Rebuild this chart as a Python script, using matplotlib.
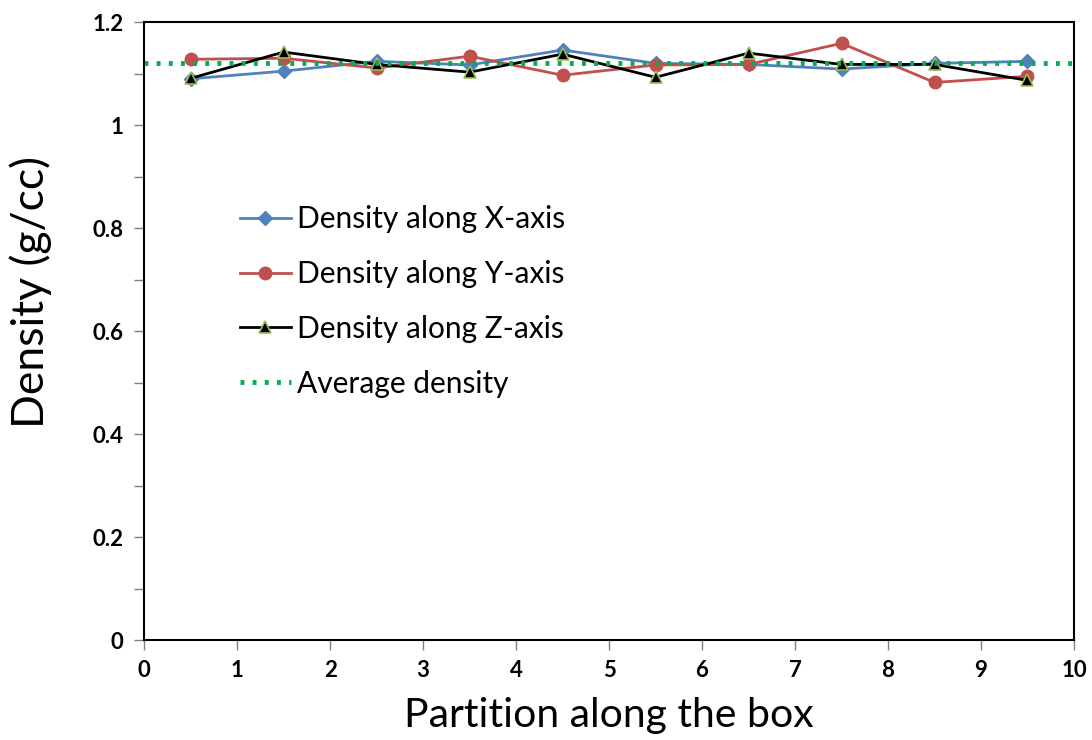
import matplotlib
matplotlib.use("Agg")
import matplotlib.pyplot as plt
from matplotlib.ticker import MultipleLocator

partition = [0.5, 1.5, 2.5, 3.5, 4.5, 5.5, 6.5, 7.5, 8.5, 9.5]
density_x = [1.090, 1.105, 1.124, 1.117, 1.146, 1.120, 1.118, 1.109, 1.120, 1.124]
density_y = [1.128, 1.130, 1.111, 1.134, 1.097, 1.117, 1.118, 1.159, 1.083, 1.095]
density_z = [1.091, 1.142, 1.118, 1.103, 1.138, 1.093, 1.140, 1.118, 1.118, 1.087]
avg_density = 1.12

plt.rcParams['font.family'] = ['Lato', 'DejaVu Sans']

fig = plt.figure(figsize=(10.92, 7.40), dpi=100)
ax = fig.add_axes([0.132, 0.135, 0.8515, 0.835])

ax.plot(partition, density_x, color='#4F81BD', lw=2, marker='D', ms=7,
        label='Density along X-axis')
ax.plot(partition, density_y, color='#C0504D', lw=2, marker='o', ms=9,
        label='Density along Y-axis')
ax.plot(partition, density_z, color='black', lw=2, marker='^', ms=9,
        markerfacecolor='black', markeredgecolor='#9BBB59', markeredgewidth=1.2,
        label='Density along Z-axis')
ax.axhline(avg_density, color='#00B050', lw=3.5, ls=(0, (0.8, 1.7)),
           label='Average density')

ax.set_xlim(0, 10)
ax.set_ylim(0, 1.2)
ax.xaxis.set_major_locator(MultipleLocator(1))
ax.yaxis.set_minor_locator(MultipleLocator(0.1))
ax.set_yticks([0, 0.2, 0.4, 0.6, 0.8, 1.0, 1.2])
ax.set_yticklabels(['0', '0.2', '0.4', '0.6', '0.8', '1', '1.2'])
ax.tick_params(axis='both', which='both', direction='out', color='#808080',
               length=7, width=1)
ax.tick_params(axis='both', labelsize=16)
for lab in ax.get_xticklabels() + ax.get_yticklabels():
    lab.set_fontweight('bold')
ax.tick_params(axis='x', pad=7)
ax.tick_params(axis='y', pad=8)
for s in ax.spines.values():
    s.set_linewidth(1.5)
    s.set_color('black')

ax.set_xlabel('Partition along the box', fontsize=29.5, labelpad=12)
ax.set_ylabel('Density (g/cc)', fontsize=32)
ax.yaxis.set_label_coords(-0.099, 0.563)

ax.legend(loc='upper left', bbox_to_anchor=(0.103, 0.704), frameon=False,
          fontsize=21.5, handlelength=1.7, labelspacing=0.90, handletextpad=0.2,
          borderpad=0, borderaxespad=0)

fig.savefig('out.png', dpi=100)
